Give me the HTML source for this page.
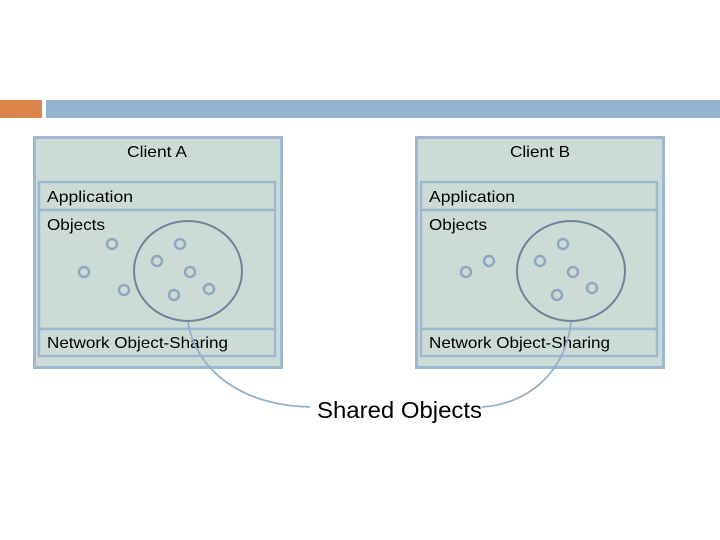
<!DOCTYPE html>
<html><head><meta charset="utf-8"><style>
html,body{margin:0;padding:0;background:#fff;}
svg{display:block;}
text{font-family:"Liberation Sans",Arial,sans-serif;fill:#000;}
</style></head><body>
<svg width="720" height="540" viewBox="0 0 720 540" xmlns="http://www.w3.org/2000/svg">
<rect x="0" y="100" width="42" height="18" fill="#dc8449"/>
<rect x="46" y="100" width="674" height="18" fill="#93b3cf"/>

<g>
<rect x="34.5" y="137.5" width="247" height="230" fill="#cddbd7" stroke="#9fb8cf" stroke-width="3"/>
<text x="127" y="157" font-size="16" textLength="60" lengthAdjust="spacingAndGlyphs">Client A</text>
<rect x="39" y="182" width="236" height="28" fill="#cddbd7" stroke="#9fb8cf" stroke-width="2.5"/>
<rect x="39" y="210" width="236" height="119" fill="#cddbd7" stroke="#9fb8cf" stroke-width="2.5"/>
<rect x="39" y="329" width="236" height="27" fill="#cddbd7" stroke="#9fb8cf" stroke-width="2.5"/>
<text x="47" y="202" font-size="16" textLength="86" lengthAdjust="spacingAndGlyphs">Application</text>
<text x="47" y="230" font-size="16" textLength="58" lengthAdjust="spacingAndGlyphs">Objects</text>
<text x="47" y="348" font-size="16" textLength="181" lengthAdjust="spacingAndGlyphs">Network Object-Sharing</text>
<g fill="none" stroke="#8ea8c1" stroke-width="2.5">
<circle cx="112" cy="244" r="5"/><circle cx="180" cy="244" r="5"/><circle cx="157" cy="261" r="5"/>
<circle cx="84" cy="272" r="5"/><circle cx="190" cy="272" r="5"/><circle cx="124" cy="290" r="5"/>
<circle cx="174" cy="295" r="5"/><circle cx="209" cy="289" r="5"/>
</g>
<ellipse cx="188" cy="271" rx="54" ry="50" fill="none" stroke="#6e8499" stroke-width="2"/>
</g>

<g>
<rect x="416.5" y="137.5" width="247" height="230" fill="#cddbd7" stroke="#9fb8cf" stroke-width="3"/>
<text x="510" y="157" font-size="16" textLength="60" lengthAdjust="spacingAndGlyphs">Client B</text>
<rect x="421" y="182" width="236" height="28" fill="#cddbd7" stroke="#9fb8cf" stroke-width="2.5"/>
<rect x="421" y="210" width="236" height="119" fill="#cddbd7" stroke="#9fb8cf" stroke-width="2.5"/>
<rect x="421" y="329" width="236" height="27" fill="#cddbd7" stroke="#9fb8cf" stroke-width="2.5"/>
<text x="429" y="202" font-size="16" textLength="86" lengthAdjust="spacingAndGlyphs">Application</text>
<text x="429" y="230" font-size="16" textLength="58" lengthAdjust="spacingAndGlyphs">Objects</text>
<text x="429" y="348" font-size="16" textLength="181" lengthAdjust="spacingAndGlyphs">Network Object-Sharing</text>
<g fill="none" stroke="#8ea8c1" stroke-width="2.5">
<circle cx="563" cy="244" r="5"/><circle cx="489" cy="261" r="5"/><circle cx="540" cy="261" r="5"/>
<circle cx="466" cy="272" r="5"/><circle cx="573" cy="272" r="5"/><circle cx="557" cy="295" r="5"/>
<circle cx="592" cy="288" r="5"/>
</g>
<ellipse cx="571" cy="271" rx="54" ry="50" fill="none" stroke="#6e8499" stroke-width="2"/>
</g>

<path d="M188 322 C196 370 240 405 310 407" fill="none" stroke="#93b0c8" stroke-width="1.8"/>
<path d="M571 322 C566 370 530 404 482 407" fill="none" stroke="#93b0c8" stroke-width="1.8"/>
<text x="317" y="418" font-size="23" textLength="165" lengthAdjust="spacingAndGlyphs">Shared Objects</text>
</svg>
</body></html>
